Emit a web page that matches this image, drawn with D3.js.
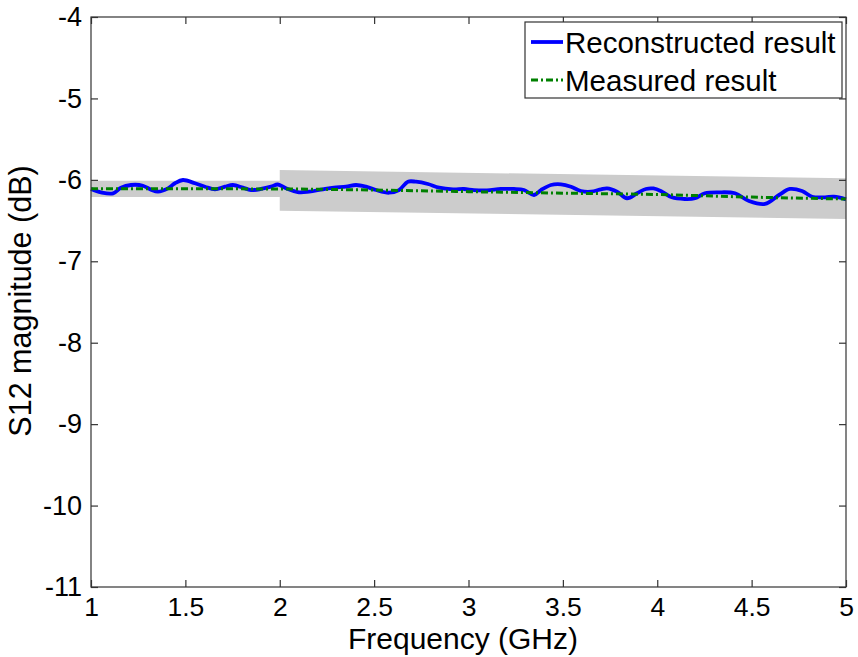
<!DOCTYPE html>
<html>
<head>
<meta charset="utf-8">
<script src="https://cdn.jsdelivr.net/npm/d3@7"></script>
<style>
  html, body { margin: 0; padding: 0; background: #fff; }
  svg { display: block; font-family: "Liberation Sans", Arial, sans-serif; }
</style>
</head>
<body>
<svg id="chart" width="858" height="657"></svg>
<script>
// Reconstructed S12 magnitude (dB) vs frequency (GHz)
const recFreq = [1.000,1.053,1.117,1.159,1.212,1.275,1.318,1.355,1.408,1.445,1.487,1.551,1.604,1.657,1.710,1.752,1.805,1.848,1.901,1.954,1.990,2.033,2.102,2.155,2.229,2.287,2.351,2.404,2.457,2.510,2.579,2.632,2.679,2.722,2.785,2.844,2.918,2.976,3.029,3.098,3.172,3.241,3.294,3.347,3.384,3.437,3.490,3.543,3.596,3.649,3.702,3.734,3.787,3.840,3.893,3.940,3.980,4.025,4.077,4.146,4.200,4.252,4.327,4.412,4.486,4.571,4.645,4.703,4.767,4.820,4.889,4.936,5.000];
const recS12 = [-6.112,-6.153,-6.165,-6.096,-6.063,-6.072,-6.121,-6.145,-6.104,-6.042,-6.002,-6.042,-6.084,-6.116,-6.084,-6.063,-6.096,-6.125,-6.112,-6.084,-6.057,-6.104,-6.153,-6.145,-6.116,-6.096,-6.084,-6.063,-6.084,-6.125,-6.158,-6.125,-6.023,-6.023,-6.051,-6.096,-6.116,-6.112,-6.125,-6.128,-6.112,-6.112,-6.125,-6.186,-6.125,-6.063,-6.055,-6.084,-6.137,-6.145,-6.116,-6.104,-6.145,-6.226,-6.165,-6.112,-6.106,-6.145,-6.214,-6.235,-6.226,-6.165,-6.153,-6.165,-6.260,-6.296,-6.186,-6.112,-6.137,-6.207,-6.214,-6.207,-6.239];

// Measured S12 magnitude (dB)
const measFreq = [1, 1.5, 2, 2.5, 3, 3.5, 4, 4.5, 5];
const measS12 = [-6.110, -6.110, -6.112, -6.125, -6.145, -6.163, -6.180, -6.212, -6.235];

// Tolerance band around the measured result
const bandFreq = [1, 2, 2, 5];
const bandUpper = [-6.01, -6.01, -5.88, -5.98];
const bandLower = [-6.21, -6.21, -6.38, -6.48];

// Axis ticks
const xTicks = [1, 1.5, 2, 2.5, 3, 3.5, 4, 4.5, 5];
const xTickLabels = ["1", "1.5", "2", "2.5", "3", "3.5", "4", "4.5", "5"];
const yTicks = [-11, -10, -9, -8, -7, -6, -5, -4];
const yTickLabels = ["-11", "-10", "-9", "-8", "-7", "-6", "-5", "-4"];

const legendNames = ["Reconstructed result", "Measured result"];

const W = 858, H = 657;
const margin = { left: 91, right: 12, top: 17, bottom: 70 };
const iw = W - margin.left - margin.right;
const ih = H - margin.top - margin.bottom;

const svg = d3.select("#chart");
const g = svg.append("g").attr("transform", `translate(${margin.left},${margin.top})`);

const x = d3.scaleLinear().domain([1, 5]).range([0, iw]);
const y = d3.scaleLinear().domain([-11, -4]).range([ih, 0]);

const axisColor = "#333";

// Gray tolerance band
const bandData = bandFreq.map((f, i) => ({ f, hi: bandUpper[i], lo: bandLower[i] }));
g.append("path")
  .datum(bandData)
  .attr("fill", "#cccccc")
  .attr("d", d3.area().x(d => x(d.f)).y0(d => y(d.lo)).y1(d => y(d.hi)));

// Reconstructed curve
const recData = recFreq.map((f, i) => ({ f, v: recS12[i] }));
g.append("path")
  .datum(recData)
  .attr("fill", "none")
  .attr("stroke", "#0000ff")
  .attr("stroke-width", 3.8)
  .attr("stroke-linejoin", "round")
  .attr("d", d3.line().x(d => x(d.f)).y(d => y(d.v)).curve(d3.curveCatmullRom));

// Measured curve (dash-dot)
const measData = measFreq.map((f, i) => ({ f, v: measS12[i] }));
g.append("path")
  .datum(measData)
  .attr("fill", "none")
  .attr("stroke", "#008000")
  .attr("stroke-width", 3)
  .attr("stroke-dasharray", "7,3,2,3")
  .attr("d", d3.line().x(d => x(d.f)).y(d => y(d.v)).curve(d3.curveMonotoneX));

// Axes box
g.append("rect")
  .attr("x", 0).attr("y", 0).attr("width", iw).attr("height", ih)
  .attr("fill", "none").attr("stroke", axisColor).attr("stroke-width", 1.2);

// Bottom axis (ticks inward) and mirrored top ticks
const xAxis = d3.axisBottom(x).tickValues(xTicks).tickSizeInner(-7).tickSizeOuter(0)
  .tickPadding(10).tickFormat((d, i) => xTickLabels[i]);
const gx = g.append("g").attr("transform", `translate(0,${ih})`).call(xAxis);
gx.select(".domain").remove();
gx.selectAll(".tick line").attr("stroke", axisColor).attr("stroke-width", 1.2);
gx.selectAll(".tick text").attr("fill", "#000").attr("dy", null)
  .attr("y", 28.5).style("font-size", "26.5px");

const gxt = g.append("g").call(d3.axisTop(x).tickValues(xTicks).tickSizeInner(-7).tickSizeOuter(0).tickFormat(""));
gxt.select(".domain").remove();
gxt.selectAll(".tick line").attr("stroke", axisColor).attr("stroke-width", 1.2);

// Left axis and mirrored right ticks
const yAxis = d3.axisLeft(y).tickValues(yTicks).tickSizeInner(-7).tickSizeOuter(0)
  .tickPadding(9).tickFormat((d, i) => yTickLabels[i]);
const gy = g.append("g").call(yAxis);
gy.select(".domain").remove();
gy.selectAll(".tick line").attr("stroke", axisColor).attr("stroke-width", 1.2);
gy.selectAll(".tick text").attr("fill", "#000").style("font-size", "27px");

const gyr = g.append("g").attr("transform", `translate(${iw},0)`)
  .call(d3.axisRight(y).tickValues(yTicks).tickSizeInner(-7).tickSizeOuter(0).tickFormat(""));
gyr.select(".domain").remove();
gyr.selectAll(".tick line").attr("stroke", axisColor).attr("stroke-width", 1.2);

// Axis titles
svg.append("text")
  .attr("x", 463).attr("y", 648.5)
  .attr("text-anchor", "middle").style("font-size", "30px").attr("fill", "#000")
  .text("Frequency (GHz)");

svg.append("text")
  .attr("transform", `translate(31,301) rotate(-90)`)
  .attr("text-anchor", "middle").style("font-size", "30.5px").attr("fill", "#000")
  .text("S12 magnitude (dB)");

// Legend
const lg = svg.append("g");
lg.append("rect")
  .attr("x", 525).attr("y", 22).attr("width", 317).attr("height", 76)
  .attr("fill", "#fff").attr("stroke", axisColor).attr("stroke-width", 1.2);
const legendStyles = [
  { color: "#0000ff", width: 3.8, dash: null },
  { color: "#008000", width: 3, dash: "7,3,2,3" }
];
const rowY = [42, 80];
legendNames.forEach((name, i) => {
  const s = legendStyles[i];
  const ln = lg.append("line")
    .attr("x1", 531).attr("x2", 563).attr("y1", rowY[i]).attr("y2", rowY[i])
    .attr("stroke", s.color).attr("stroke-width", s.width);
  if (s.dash) ln.attr("stroke-dasharray", s.dash);
  lg.append("text")
    .attr("x", 565).attr("y", rowY[i]).attr("dy", "0.36em")
    .style("font-size", "29.5px").attr("fill", "#000")
    .text(name);
});
</script>
</body>
</html>
